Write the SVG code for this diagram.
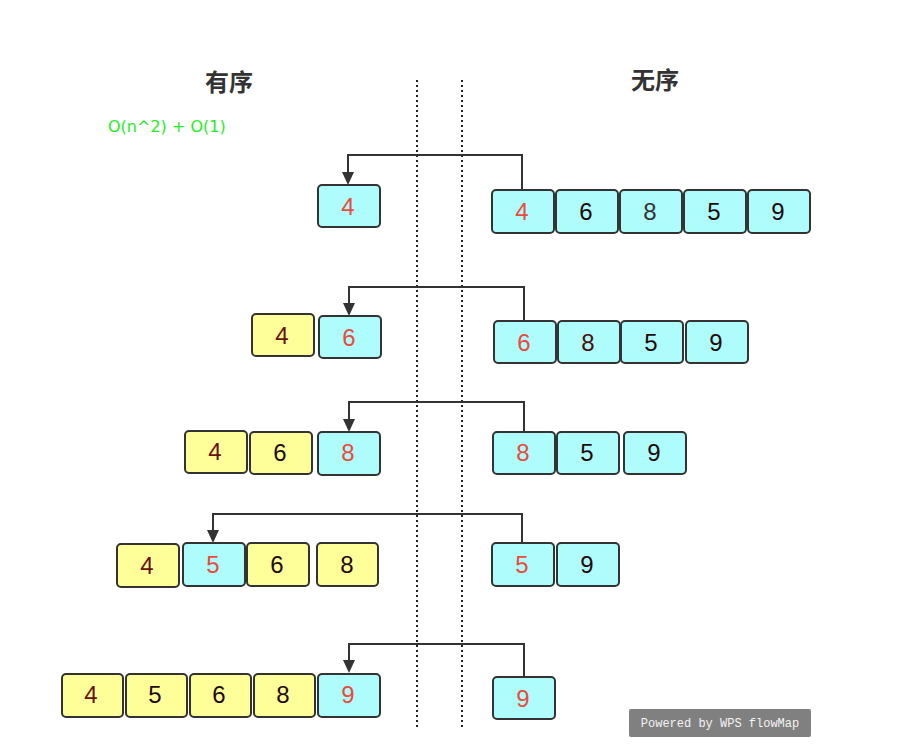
<svg xmlns="http://www.w3.org/2000/svg" width="899" height="747" viewBox="0 0 899 747">
<defs>
<style>
.c{fill:#aefcfc;stroke:#333;stroke-width:2}
.y{fill:#ffff99;stroke:#333;stroke-width:2}
.t{font-family:"Liberation Sans",Arial,sans-serif;font-size:24px;text-anchor:middle;fill:#1e0a0a}
.r{fill:#ea4b3c}
.d{fill:#6a1010}
.ln{fill:none;stroke:#333;stroke-width:2}
.dot{stroke:#222;stroke-width:2;stroke-dasharray:2 3}
.h{font-family:"Noto Sans CJK SC","DejaVu Sans",sans-serif;font-size:24px;font-weight:bold;fill:#333;text-anchor:middle}
</style>
</defs>
<rect width="899" height="747" fill="#fff"/>
<line class="dot" x1="417" y1="80" x2="417" y2="728"/>
<line class="dot" x1="462" y1="80" x2="462" y2="728"/>
<text class="h" x="229" y="91">有序</text>
<text class="h" x="655" y="89">无序</text>
<text x="108" y="132" font-family="DejaVu Sans,sans-serif" font-size="16" fill="#22ee22">O(n^2) + O(1)</text>
<g id="connectors">
<path class="ln" d="M522,190 V155 H348 V174"/>
<path d="M342,172 L354,172 L348,185 Z" fill="#333"/>
<path class="ln" d="M524,321 V287 H349 V305"/>
<path d="M343,303 L355,303 L349,316 Z" fill="#333"/>
<path class="ln" d="M524,432 V402 H349 V421"/>
<path d="M343,419 L355,419 L349,432 Z" fill="#333"/>
<path class="ln" d="M522,543 V514 H213 V532"/>
<path d="M207,530 L219,530 L213,543 Z" fill="#333"/>
<path class="ln" d="M524,677 V644 H349 V662"/>
<path d="M343,660 L355,660 L349,673 Z" fill="#333"/>
</g>
<g id="r1-left"><rect class="c" x="318" y="185" width="62" height="42" rx="4"/><text class="t r" x="348" y="215">4</text></g>
<g id="r1-a"><rect class="c" x="492" y="190" width="62" height="43" rx="4"/><text class="t r" x="522" y="220">4</text></g>
<g id="r1-b"><rect class="c" x="556" y="190" width="62" height="43" rx="4"/><text class="t" x="586" y="220">6</text></g>
<g id="r1-c"><rect class="c" x="620" y="190" width="62" height="43" rx="4"/><text class="t" x="650" y="220" style="fill:#333">8</text></g>
<g id="r1-d"><rect class="c" x="684" y="190" width="62" height="43" rx="4"/><text class="t" x="714" y="220">5</text></g>
<g id="r1-e"><rect class="c" x="748" y="190" width="62" height="43" rx="4"/><text class="t" x="778" y="220">9</text></g>

<g id="r2-l1"><rect class="y" x="252" y="314" width="62" height="42" rx="4"/><text class="t d" x="282" y="344">4</text></g>
<g id="r2-l2"><rect class="c" x="319" y="316" width="62" height="42" rx="4"/><text class="t r" x="349" y="346">6</text></g>
<g id="r2-a"><rect class="c" x="494" y="321" width="62" height="42" rx="4"/><text class="t r" x="524" y="351">6</text></g>
<g id="r2-b"><rect class="c" x="558" y="321" width="62" height="42" rx="4"/><text class="t" x="588" y="351" style="fill:#4a0e0e">8</text></g>
<g id="r2-c"><rect class="c" x="621" y="321" width="62" height="42" rx="4"/><text class="t" x="651" y="351">5</text></g>
<g id="r2-d"><rect class="c" x="686" y="321" width="62" height="42" rx="4"/><text class="t" x="716" y="351">9</text></g>

<g id="r3-l1"><rect class="y" x="185" y="431" width="62" height="42" rx="4"/><text class="t d" x="215" y="460">4</text></g>
<g id="r3-l2"><rect class="y" x="250" y="432" width="62" height="42" rx="4"/><text class="t" x="280" y="461">6</text></g>
<g id="r3-l3"><rect class="c" x="318" y="432" width="62" height="43" rx="4"/><text class="t r" x="348" y="461">8</text></g>
<g id="r3-a"><rect class="c" x="493" y="432" width="62" height="42" rx="4"/><text class="t r" x="523" y="461">8</text></g>
<g id="r3-b"><rect class="c" x="557" y="432" width="62" height="42" rx="4"/><text class="t" x="587" y="461">5</text></g>
<g id="r3-c"><rect class="c" x="624" y="432" width="62" height="42" rx="4"/><text class="t" x="654" y="461">9</text></g>

<g id="r4-l1"><rect class="y" x="117" y="544" width="62" height="43" rx="4"/><text class="t d" x="147" y="574">4</text></g>
<g id="r4-l2"><rect class="c" x="183" y="543" width="62" height="43" rx="4"/><text class="t r" x="213" y="573">5</text></g>
<g id="r4-l3"><rect class="y" x="247" y="543" width="62" height="43" rx="4"/><text class="t" x="277" y="573">6</text></g>
<g id="r4-l4"><rect class="y" x="317" y="543" width="61" height="43" rx="4"/><text class="t" x="347" y="573">8</text></g>
<g id="r4-a"><rect class="c" x="492" y="543" width="62" height="43" rx="4"/><text class="t r" x="522" y="573">5</text></g>
<g id="r4-b"><rect class="c" x="557" y="543" width="62" height="43" rx="4"/><text class="t" x="587" y="573">9</text></g>

<g id="r5-l1"><rect class="y" x="62" y="674" width="61" height="43" rx="4"/><text class="t d" x="91" y="703">4</text></g>
<g id="r5-l2"><rect class="y" x="126" y="674" width="61" height="43" rx="4"/><text class="t" x="155" y="703">5</text></g>
<g id="r5-l3"><rect class="y" x="190" y="674" width="61" height="43" rx="4"/><text class="t" x="219" y="703">6</text></g>
<g id="r5-l4"><rect class="y" x="254" y="674" width="61" height="43" rx="4"/><text class="t" x="283" y="703">8</text></g>
<g id="r5-l5"><rect class="c" x="318" y="674" width="62" height="43" rx="4"/><text class="t r" x="348" y="703">9</text></g>
<g id="r5-a"><rect class="c" x="493" y="677" width="62" height="42" rx="4"/><text class="t r" x="523" y="707">9</text></g>

<g id="watermark"><rect x="629" y="709" width="182" height="28" rx="2" fill="#808080"/><text x="720" y="727" font-family="Liberation Mono,DejaVu Sans Mono,monospace" font-size="12" fill="#f4f4f4" text-anchor="middle">Powered by WPS flowMap</text></g>
</svg>
